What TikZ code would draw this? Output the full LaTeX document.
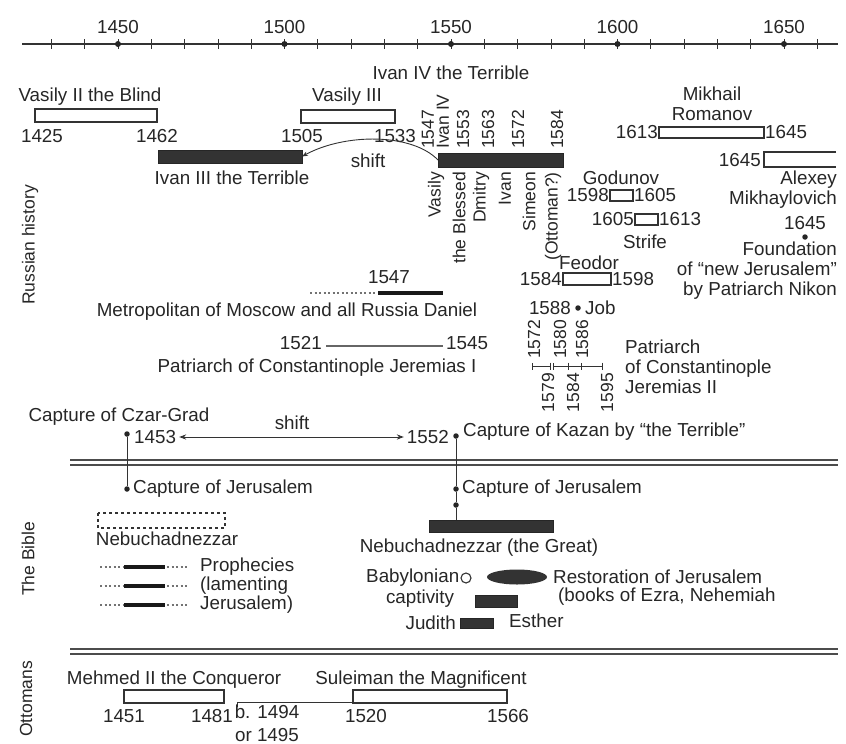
\documentclass[tikz,border=0pt]{standalone}
\usepackage{fontspec}
\setmainfont{Liberation Sans}
\usetikzlibrary{arrows.meta,positioning}

\tikzset{
  lbl/.style={text=black!85, inner sep=1pt},
  vlbl/.style={lbl, rotate=90, font=\fontsize{17.5}{19}\selectfont},
  openbar/.style={draw=black!80, line width=1.1pt, fill=white, inner sep=0pt, outer sep=0pt, anchor=north west},
  solidbar/.style={draw=black!85, fill=black!80, line width=0.8pt, inner sep=0pt, outer sep=0pt, anchor=north west},
  evdot/.style={circle, fill=black!85, inner sep=0pt, minimum size=5.5pt},
  conn/.style={black!80, line width=0.9pt},
  sepline/.style={black!70, line width=1.3pt},
  dotline/.style={black!55, line width=2pt, dash pattern=on 2pt off 2.5pt},
  thickline/.style={black!90, line width=3.5pt},
}

\begin{document}
\begin{tikzpicture}[x=1pt, y=-1pt, font=\fontsize{18.8}{20}\selectfont]
  \useasboundingbox (0,0) rectangle (846,744);

  % time axis
  \draw[black!80, line width=1.4pt] (22,44) -- (838,44);
  \foreach \yr in {1430,1440,...,1660}
    \draw[black!80, line width=0.8pt] ({118+(\yr-1450)*3.33},39) -- ++(0,10);
  \foreach \yr in {1450,1500,...,1650} {
    \fill[black!85] ({118+(\yr-1450)*3.33},44) circle (3pt);
    \node[lbl] (y\yr) at ({118+(\yr-1450)*3.33},27) {\yr};
  }

  % section titles and separators
  \node[vlbl] (tRus) at (30,245) {Russian history};
  \node[vlbl] (tBib) at (28,559) {The Bible};
  \node[vlbl] (tOtt) at (26,699) {Ottomans};
  \draw[sepline] (70,460) -- (838,460);
  \draw[sepline] (70,465) -- (838,465);
  \draw[sepline] (70,649) -- (838,649);
  \draw[sepline] (70,654) -- (838,654);

  % Russian rulers
  \node[lbl] (ivIVt) at (451,73) {Ivan IV the Terrible};
  \node[lbl] (vasIIt) at (90,97) {Vasily II the Blind};
  \node[openbar, minimum width=122pt, minimum height=13pt] (vasII) at (35,109) {};
  \node[lbl] (v1425) at (42,136) {1425};
  \node[lbl] (v1462) at (157,136) {1462};
  \node[lbl] (vasIIIt) at (347,97) {Vasily III};
  \node[openbar, minimum width=94pt, minimum height=13pt] (vasIII) at (301,110) {};
  \node[lbl] (v1505) at (302,136) {1505};
  \node[lbl] (v1533) at (395,136) {1533};
  \node[solidbar, minimum width=144pt, minimum height=13pt] (ivanIII) at (158,150) {};
  \node[lbl] (ivIIIt) at (232,178) {Ivan III the Terrible};
  \node[solidbar, minimum width=125pt, minimum height=14pt] (ivanIV) at (438,153) {};
  \draw[conn, -{Stealth[length=6pt]}] (ivanIV.west) .. controls (412,133) and (345,133) .. (ivanIII.east);
  \node[lbl] (shiftA) at (368,161) {shift};
  \foreach \x/\t in {428/1547, 443/Ivan IV, 463/1553, 488/1563, 518/1572, 557/1584}
    \node[vlbl, anchor=west] at (\x,150) {\t};
  \foreach \x/\t in {436/Vasily, 459/the Blessed, 481/Dmitry, 505/Ivan, 529/Simeon, 553/(Ottoman?)}
    \node[vlbl, anchor=east] at (\x,171) {\t};

  \node[lbl, align=center] (mikt) at (712,104) {Mikhail\\Romanov};
  \node[openbar, minimum width=105pt, minimum height=11pt] (mikh) at (659,127) {};
  \node[lbl, anchor=east] (m1613) at (mikh.west) {1613};
  \node[lbl, anchor=west] (m1645) at (mikh.east) {1645};
  \draw[black!80, line width=1.1pt] (836,152) -- (764,152) -- (764,167) -- (836,167);
  \node[lbl, anchor=east] (a1645) at (762,160) {1645};
  \node[lbl, align=right, anchor=north east] (alext) at (838,170) {Alexey\\Mikhaylovich};

  \node[lbl] (godt) at (621,178) {Godunov};
  \node[openbar, minimum width=23pt, minimum height=11pt] (godu) at (610,190) {};
  \node[lbl, anchor=east] (g1598) at (godu.west) {1598};
  \node[lbl, anchor=west] (g1605) at (godu.east) {1605};
  \node[openbar, minimum width=23pt, minimum height=11pt] (strife) at (635,214) {};
  \node[lbl, anchor=east] (s1605) at (strife.west) {1605};
  \node[lbl, anchor=west] (s1613) at (strife.east) {1613};
  \node[lbl] (strt) at (645,242) {Strife};
  \node[lbl] (feot) at (589,263) {Feodor};
  \node[openbar, minimum width=48pt, minimum height=12pt] (feod) at (563,273) {};
  \node[lbl, anchor=east] (f1584) at (feod.west) {1584};
  \node[lbl, anchor=west] (f1598) at (feod.east) {1598};
  \node[evdot] (job) at (578,308) {};
  \node[lbl, anchor=east] (j1588) at ([xshift=-3pt]job.west) {1588};
  \node[lbl, anchor=west] (jobt) at ([xshift=3pt]job.east) {Job};

  \node[lbl] (n1645) at (805,223) {1645};
  \node[evdot] (nikon) at (805,237) {};
  \node[lbl, align=right, anchor=north east] (nikt) at (838,241) {Foundation\\of “new Jerusalem”\\by Patriarch Nikon};

  % church
  \draw[dotline] (310,293) -- (378,293);
  \draw[thickline] (378,293) -- (443,293);
  \node[lbl] (d1547) at (389,277) {1547};
  \node[lbl] (dant) at (287,312) {Metropolitan of Moscow and all Russia Daniel};
  \draw[black!60, line width=2.5pt] (326,346) -- (443,346);
  \node[lbl, anchor=east] (j1521) at (323,343) {1521};
  \node[lbl, anchor=west] (j1545) at (445,343) {1545};
  \node[lbl] (jert) at (317,368) {Patriarch of Constantinople Jeremias I};
  \draw[conn, {Bar[width=7pt]}-{Bar[width=7pt]}] (532,366) -- (551,366);
  \draw[conn, {Bar[width=7pt]}-{Bar[width=7pt]}] (553,366) -- (569,366);
  \draw[conn, {Bar[width=7pt]}-{Bar[width=7pt]}] (581,366) -- (603,366);
  \draw[conn] (569,366) -- (581,366);
  \foreach \x/\t in {534/1572, 560/1580, 582/1586}
    \node[vlbl, anchor=west] at (\x,360) {\t};
  \foreach \x/\t in {548/1579, 573/1584, 607/1595}
    \node[vlbl, anchor=east] at (\x,372) {\t};
  \node[lbl, align=left, anchor=north west] (jerIIt) at (624,339) {Patriarch\\of Constantinople\\Jeremias II};

  % captures
  \node[lbl] (czart) at (119,417) {Capture of Czar-Grad};
  \node[evdot] (czar) at (127,434) {};
  \node[lbl, anchor=west] (c1453) at (133,437) {1453};
  \node[evdot] (kazan) at (456,436) {};
  \node[lbl, anchor=east] (k1552) at (450,437) {1552};
  \node[lbl, anchor=west] (kazt) at (462,432) {Capture of Kazan by “the Terrible”};
  \draw[conn, {Stealth[length=7pt]}-{Stealth[length=7pt]}, shorten <=2pt, shorten >=2pt] (c1453.east) -- (k1552.west);
  \node[lbl] (shiftB) at (292,423) {shift};

  % the Bible
  \node[evdot] (jerA) at (127,489) {};
  \node[lbl, anchor=west] (jerAt) at (132,489) {Capture of Jerusalem};
  \draw[conn] (czar) -- (jerA);
  \node[evdot] (jerB) at (456,489) {};
  \node[lbl, anchor=west] (jerBt) at (461,489) {Capture of Jerusalem};
  \node[evdot] (jerC) at (456,505) {};
  \node[solidbar, minimum width=124pt, minimum height=12pt] (nebG) at (429,520) {};
  \draw[conn] (kazan) -- (jerB) -- (jerC) -- (nebG.north -| jerC);
  \node[lbl] (nebGt) at (479,548) {Nebuchadnezzar (the Great)};
  \draw[black!80, line width=1.1pt, dashed] (98,513) rectangle (225,528);
  \node[lbl] (nebt) at (167,539) {Nebuchadnezzar};
  \foreach \y/\t in {567/Prophecies, 586/(lamenting, 605/Jerusalem)} {
    \draw[dotline] (100,\y) -- (124,\y);
    \draw[thickline] (124,\y) -- (165,\y);
    \draw[dotline] (167,\y) -- (189,\y);
    \node[lbl, anchor=west] at (199,\y) {\t};
  }
  \node[circle, draw=black!80, line width=1.1pt, fill=white, inner sep=0pt, minimum size=10pt] (babc) at (466,578) {};
  \node[lbl, anchor=east] (babt) at (babc.west) {Babylonian};
  \node[lbl] (capt) at (420,599) {captivity};
  \fill[black!80] (517,577) ellipse (30pt and 7.5pt);
  \node[lbl, anchor=west] (rest) at (552,577) {Restoration of Jerusalem};
  \node[lbl, anchor=west] (bookt) at (557,597) {(books of Ezra, Nehemiah};
  \node[solidbar, minimum width=42pt, minimum height=12pt] (esth) at (475,595) {};
  \node[lbl, anchor=west] (estt) at (508,621) {Esther};
  \node[solidbar, minimum width=33pt, minimum height=10pt] (judi) at (460,618) {};
  \node[lbl, anchor=east] (judt) at ([xshift=-3pt]judi.west) {Judith};

  % Ottomans
  \node[lbl] (mehmt) at (174,680) {Mehmed II the Conqueror};
  \node[lbl] (sulet) at (421,680) {Suleiman the Magnificent};
  \node[openbar, minimum width=100pt, minimum height=13pt] (mehm) at (124,690) {};
  \node[openbar, minimum width=154pt, minimum height=13pt] (sule) at (353,690) {};
  \coordinate (birth) at (237,702);
  \draw[conn] ([yshift=-5pt]birth) -- (birth) -- (birth -| sule.west);
  \node[lbl] (o1451) at (124,716) {1451};
  \node[lbl] (o1481) at (212,716) {1481};
  \node[lbl, align=center] (o1494) at (267,723) {b. 1494\\[3pt]or 1495};
  \node[lbl] (o1520) at (366,716) {1520};
  \node[lbl] (o1566) at (508,716) {1566};
\end{tikzpicture}
\end{document}
